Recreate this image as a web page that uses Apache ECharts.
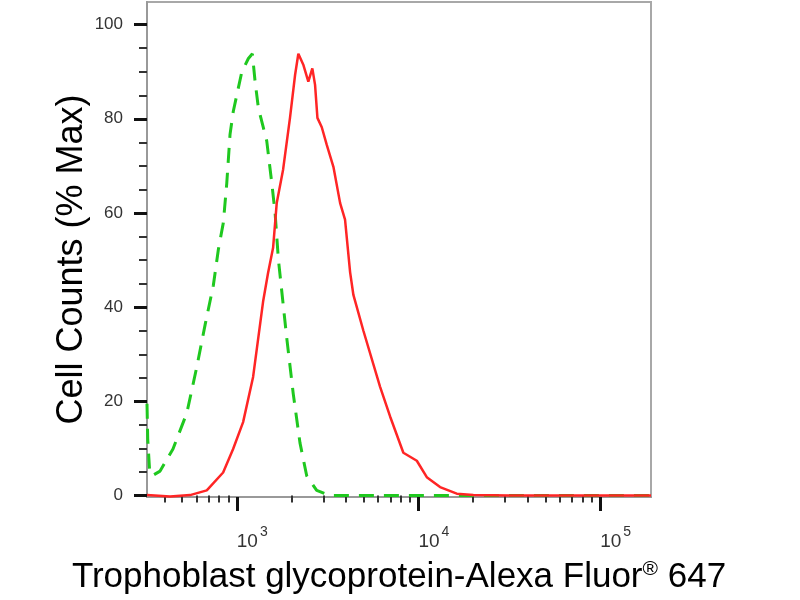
<!DOCTYPE html>
<html>
<head>
<meta charset="utf-8">
<script src="https://cdn.jsdelivr.net/npm/echarts@6/dist/echarts.min.js"></script>
<style>html,body{margin:0;padding:0;background:#fff}#c{width:800px;height:600px}</style>
</head>
<body>
<div id="c"></div>
<script>
// x values are log10(fluorescence intensity)
const redLog = [2.506, 2.633, 2.743, 2.835, 2.925, 2.980, 3.035, 3.090, 3.145, 3.172, 3.200, 3.220, 3.255, 3.293, 3.321, 3.339, 3.367, 3.394, 3.416, 3.431, 3.444, 3.468, 3.495, 3.532, 3.569, 3.596, 3.624, 3.642, 3.697, 3.789, 3.844, 3.917, 3.991, 4.046, 4.119, 4.211, 4.302, 4.500, 4.800, 5.000, 5.280];
const redPct = [0.1, -0.2, 0.1, 1.1, 4.9, 9.9, 15.6, 25.2, 41.2, 47.2, 52.6, 62.1, 69.2, 80.2, 89.3, 93.8, 91.4, 87.9, 90.7, 87.2, 80.2, 78.2, 74.5, 69.8, 62.1, 58.6, 47.4, 42.6, 35.0, 23.1, 16.8, 9.1, 7.4, 3.9, 1.8, 0.4, 0.1, 0, 0, 0, 0];
const greenLog = [2.506, 2.510, 2.520, 2.534, 2.578, 2.649, 2.725, 2.780, 2.826, 2.871, 2.899, 2.926, 2.945, 2.963, 2.981, 3.028, 3.064, 3.086, 3.101, 3.119, 3.165, 3.193, 3.211, 3.229, 3.275, 3.311, 3.348, 3.385, 3.440, 3.513, 4.000, 4.500, 5.280];
const greenPct = [19.5, 12, 5.5, 4.2, 5.2, 9.9, 17.5, 27.3, 36.3, 44.6, 52.3, 57.9, 66.3, 76.7, 81.6, 90.0, 92.8, 93.8, 87.9, 82.3, 75.3, 66.3, 60.0, 50.2, 33.5, 21.6, 11.2, 4.2, 1.1, 0, 0, 0, 0];
const xMajorExp = [3, 4, 5];
const xMinorValues = [400, 500, 600, 700, 800, 900, 2000, 3000, 4000, 5000, 6000, 7000, 8000, 9000, 20000, 30000, 40000, 50000, 60000, 70000, 80000, 90000];
const yMajorTicks = [0, 20, 40, 60, 80, 100];
const yMinorTicks = [5, 10, 15, 25, 30, 35, 45, 50, 55, 65, 70, 75, 85, 90, 95];
const xTitle = 'Trophoblast glycoprotein-Alexa Fluor';
const yTitle = 'Cell Counts (% Max)';

const X_MIN = 2.506, X_MAX = 5.28, Y_MIN = -0.3, Y_MAX = 104.8;
const FONT = 'Liberation Sans, Arial, sans-serif';

const chart = echarts.init(document.getElementById('c'), null, {renderer: 'canvas'});
const zip = (a, b) => a.map((v, i) => [v, b[i]]);
const xMinorLog = xMinorValues.map(v => Math.log10(v));

chart.setOption({
  animation: false,
  backgroundColor: '#fff',
  grid: {left: 147, top: 2, right: 149, bottom: 95, show: true, borderColor: '#a8a8a8', borderWidth: 2, backgroundColor: 'transparent'},
  xAxis: [{
    type: 'value', min: X_MIN, max: X_MAX, position: 'bottom',
    axisLine: {show: true, onZero: false, lineStyle: {color: '#999', width: 2}},
    axisTick: {show: true, customValues: xMajorExp, length: 14, lineStyle: {color: '#111', width: 3}},
    axisLabel: {
      show: true, customValues: xMajorExp, margin: 28, align: 'left',
      formatter: v => '{b|10}{s|' + v + '}',
      rich: {
        b: {fontSize: 19, fontFamily: FONT, color: '#333', lineHeight: 26, verticalAlign: 'bottom'},
        s: {fontSize: 14, fontFamily: FONT, color: '#333', lineHeight: 26, verticalAlign: 'top', padding: [0, 0, 0, 2]}
      }
    },
    splitLine: {show: false},
    name: '{t|' + xTitle + '}{r|®}{t| 647}', nameLocation: 'middle', nameGap: 60, nameMoveOverlap: false,
    nameTextStyle: {
      rich: {
        t: {fontSize: 35, fontFamily: FONT, color: '#000', lineHeight: 38, verticalAlign: 'bottom'},
        r: {fontSize: 21, fontFamily: FONT, color: '#000', lineHeight: 38, verticalAlign: 'top', padding: [2, 0, 0, 0]}
      }
    }
  }, {
    type: 'value', min: X_MIN, max: X_MAX, position: 'bottom',
    axisLine: {show: false},
    axisTick: {show: true, customValues: xMinorLog, length: 7, lineStyle: {color: '#333', width: 2}},
    axisLabel: {show: false},
    splitLine: {show: false}
  }],
  yAxis: [{
    type: 'value', min: Y_MIN, max: Y_MAX,
    axisLine: {show: true, onZero: false, lineStyle: {color: '#999', width: 2}},
    axisTick: {show: true, customValues: yMajorTicks, length: 13, lineStyle: {color: '#111', width: 3}},
    axisLabel: {show: true, customValues: yMajorTicks, margin: 24, fontSize: 17, fontFamily: FONT, color: '#333'},
    splitLine: {show: false},
    name: yTitle, nameLocation: 'middle', nameGap: 57, nameMoveOverlap: false,
    nameTextStyle: {fontSize: 36, fontFamily: FONT, color: '#000', padding: [0, 20, 0, 0]}
  }, {
    type: 'value', min: Y_MIN, max: Y_MAX, position: 'left',
    axisLine: {show: false},
    axisTick: {show: true, customValues: yMinorTicks, length: 8, lineStyle: {color: '#333', width: 2}},
    axisLabel: {show: false},
    splitLine: {show: false}
  }],
  series: [{
    type: 'line', xAxisIndex: 0, yAxisIndex: 0, data: zip(greenLog, greenPct),
    showSymbol: false, smooth: false,
    lineStyle: {color: '#1fc81f', width: 3, type: [15, 10]}
  }, {
    type: 'line', xAxisIndex: 0, yAxisIndex: 0, data: zip(redLog, redPct),
    showSymbol: false, smooth: false,
    lineStyle: {color: '#ff2525', width: 2.5}
  }]
});
</script>
</body>
</html>
